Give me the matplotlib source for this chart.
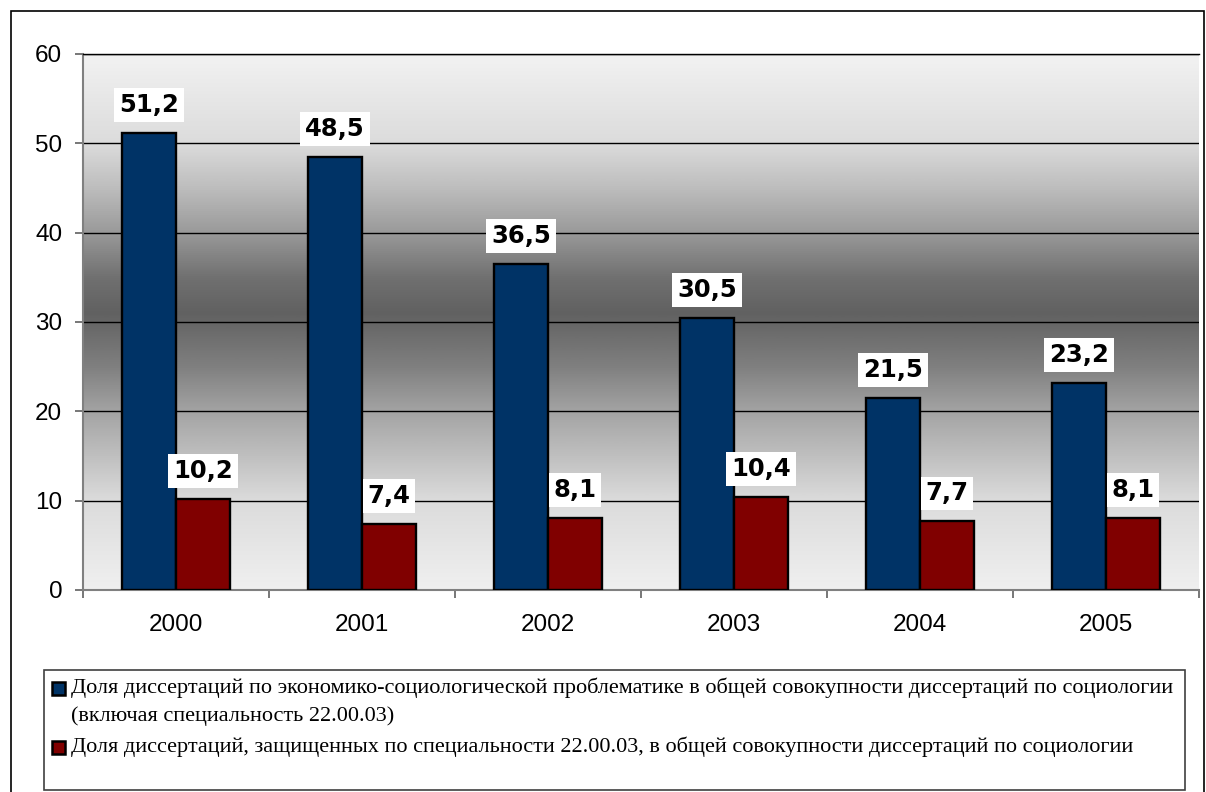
import numpy as np
import matplotlib
matplotlib.use("Agg")
import matplotlib.pyplot as plt
from matplotlib.colors import LinearSegmentedColormap
from matplotlib.patches import Rectangle

# ---- data ----
years = ["2000", "2001", "2002", "2003", "2004", "2005"]
econ_share = [51.2, 48.5, 36.5, 30.5, 21.5, 23.2]
spec_share = [10.2, 7.4, 8.1, 10.4, 7.7, 8.1]
legend_lines_1 = ["Доля диссертаций по экономико-социологической проблематике в общей совокупности диссертаций по социологии",
                  "(включая специальность 22.00.03)"]
legend_lines_2 = ["Доля диссертаций, защищенных по специальности 22.00.03, в общей совокупности диссертаций по социологии"]
yticks = [0, 10, 20, 30, 40, 50, 60]

W, H = 1206, 792
fig = plt.figure(figsize=(W / 100, H / 100), dpi=100)

def fx(px):
    return px / W

def fy(py):
    return 1 - py / H

# outer border
fig.patches.append(Rectangle((fx(10.5), fy(800)), fx(1204) - fx(10.5), fy(11) - fy(800),
                             transform=fig.transFigure, fill=False, ec="black", lw=1.2, zorder=0))

ax = fig.add_axes([fx(83), fy(590), fx(1199) - fx(83), fy(54) - fy(590)])
ax.set_xlim(-0.5, 5.5)
ax.set_ylim(0, 60)

# background gradient (value -> grey level)
stops = [(0.0, 0.94), (10, 0.86), (20, 0.64), (25, 0.50), (31, 0.38), (35, 0.44),
         (40, 0.60), (45, 0.74), (50, 0.86), (60, 0.95)]
cmap = LinearSegmentedColormap.from_list(
    "bg", [(v / 60, (g, g, g)) for v, g in stops])
grad = np.linspace(0, 1, 512).reshape(-1, 1)
ax.imshow(grad, extent=[-0.5, 5.5, 0, 60], origin="lower", aspect="auto",
          cmap=cmap, vmin=0, vmax=1, zorder=0, interpolation="bilinear")

ax.set_axisbelow(True)
ax.yaxis.grid(True, color="black", lw=1.0)
ax.set_yticks(yticks)

x = np.arange(len(years))
bw = 0.29
b1 = ax.bar(x - bw / 2, econ_share, bw, color="#003366", edgecolor="black", lw=1.7, zorder=3)
b2 = ax.bar(x + bw / 2, spec_share, bw, color="#800000", edgecolor="black", lw=1.7, zorder=3)

for bars, vals in ((b1, econ_share), (b2, spec_share)):
    for rect, v in zip(bars, vals):
        ax.annotate(f"{v:.1f}".replace(".", ","),
                    (rect.get_x() + rect.get_width() / 2, v),
                    xytext=(0, 20), textcoords="offset points",
                    ha="center", va="center", fontsize=17.5, fontweight="bold",
                    family="DejaVu Sans", zorder=5,
                    bbox=dict(boxstyle="square,pad=0.2", fc="white", ec="none"))

ax.spines["right"].set_visible(False)
ax.spines["top"].set_color("black")
ax.spines["top"].set_linewidth(1.0)
ax.spines["left"].set_color("#808080")
ax.spines["bottom"].set_color("#808080")
ax.spines["left"].set_linewidth(1.5)
ax.spines["bottom"].set_linewidth(1.5)

ax.set_xticks(x)
ax.set_xticklabels(years, family="Liberation Sans", fontsize=17.5)
ax.set_xticks(np.arange(-0.5, 6.0, 1.0), minor=True)
ax.tick_params(axis="x", which="major", length=0, pad=17)
ax.tick_params(axis="x", which="minor", length=6, width=1.2, color="#606060", direction="out")
ax.tick_params(axis="y", length=6, width=1.2, color="#606060", direction="out", pad=9,
               labelsize=17.5)
for t in ax.get_yticklabels():
    t.set_family("Liberation Sans")

# legend (manual box)
fig.patches.append(Rectangle((fx(44), fy(790)), fx(1185) - fx(44), fy(670) - fy(790),
                             transform=fig.transFigure, fill=True, fc="white",
                             ec="#404040", lw=1.2, zorder=1))
legend_entries = [("#003366", legend_lines_1, 688), ("#800000", legend_lines_2, 747)]
for color, lines, y0 in legend_entries:
    fig.patches.append(Rectangle((fx(52), fy(y0 + 6.5)), fx(13), fy(0) - fy(13),
                                 transform=fig.transFigure, fc=color, ec="black",
                                 lw=1.8, zorder=2))
    for i, line in enumerate(lines):
        fig.text(fx(71), fy(y0 + i * 28), line, ha="left", va="center",
                 family="Liberation Serif", fontsize=16, zorder=3)

fig.savefig("out.png", dpi=100)
